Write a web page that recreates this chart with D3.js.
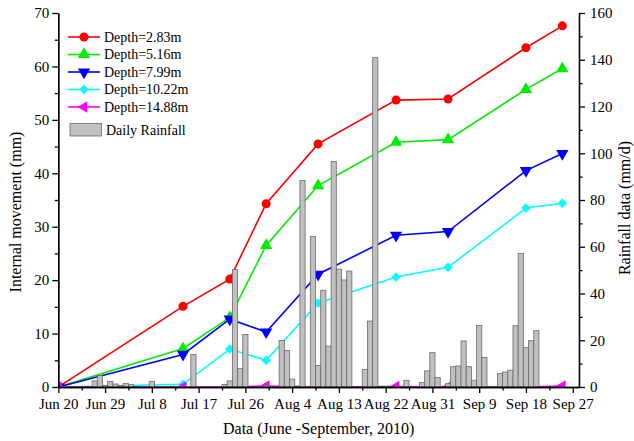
<!DOCTYPE html>
<meta charset="utf-8">
<html>
<head>
<style>
  body { margin: 0; background: #fff; }
  text { font-family: "Liberation Serif", "Times New Roman", serif; fill: #000; }
  .axis path, .axis line { stroke: #000; stroke-width: 1.3px; }
  .axis text { font-size: 15px; font-family: "Liberation Serif", serif; }
  rect.rain { fill: #c0c0c0; stroke: #6a6a6a; stroke-width: 0.8px; }
  text.legend { font-size: 14px; }
  text.title { font-size: 16px; }
</style>
<script src="https://cdn.jsdelivr.net/npm/d3@7"></script>
</head>
<body>
<div id="chart"></div>
<script>
// measuring dates and internal movement (mm)
var depthDates = ["Jun 20", "Jul 14", "Jul 23", "Jul 30", "Aug 9", "Aug 24", "Sep 3", "Sep 18", "Sep 25"];
var depth283  = [0, 15.1, 20.2, 34.3, 45.5, 53.7, 53.9, 63.5, 67.6];
var depth516  = [0, 7.2, 13.0, 26.5, 37.7, 45.8, 46.3, 55.7, 59.6];
var depth799  = [0, 6.1, 12.7, 10.3, 21.1, 28.4, 29.1, 40.5, 43.7];
var depth1022 = [0, 0.5, 7.1, 5.0, 15.7, 20.6, 22.4, 33.5, 34.4];
var depth1488 = [0, 0, 0, 0.2, 0, 0.1, 0, 0, 0.2];

// daily rainfall (mm/d), days not listed had none
var rainDates = ["Jun 27","Jun 28","Jun 29","Jun 30","Jul 1","Jul 2","Jul 3","Jul 4","Jul 5",
  "Jul 8","Jul 12","Jul 16",
  "Jul 22","Jul 23","Jul 24","Jul 25","Jul 26","Jul 30",
  "Aug 2","Aug 3","Aug 4","Aug 5","Aug 6",
  "Aug 8","Aug 9","Aug 10","Aug 11","Aug 12","Aug 13","Aug 14","Aug 15",
  "Aug 18","Aug 19","Aug 20","Aug 21","Aug 22","Aug 23","Aug 26",
  "Aug 29","Aug 30","Aug 31","Sep 1",
  "Sep 3","Sep 4","Sep 5","Sep 6","Sep 7","Sep 8","Sep 9","Sep 10",
  "Sep 13","Sep 14","Sep 15","Sep 16","Sep 17","Sep 18","Sep 19","Sep 20"];
var rainValues = [2.6, 4.9, 0.7, 2.4, 1.3, 0.6, 1.5, 1.0, 0.2,
  2.3, 0.3, 13.9,
  1.1, 2.6, 50.2, 7.9, 22.5, 0.6,
  19.9, 15.6, 3.4, 0.4, 88.4,
  64.4, 9.2, 41.4, 17.5, 96.5, 50.4, 45.8, 49.6,
  7.5, 28.2, 140.9, 0.3, 0.3, 0.2, 2.9,
  1.9, 6.9, 14.7, 4.0,
  1.4, 8.7, 9.0, 19.7, 8.7, 2.9, 26.3, 12.6,
  5.7, 6.4, 7.2, 26.2, 57.1, 16.8, 19.8, 24.1];

var xTickLabels = ["Jun 20","Jun 29","Jul 8","Jul 17","Jul 26","Aug 4","Aug 13","Aug 22","Aug 31","Sep 9","Sep 18","Sep 27"];
var leftTicks = [0, 10, 20, 30, 40, 50, 60, 70];
var rightTicks = [0, 20, 40, 60, 80, 100, 120, 140, 160];

var seriesNames = ["Depth=2.83m", "Depth=5.16m", "Depth=7.99m", "Depth=10.22m", "Depth=14.88m"];
var seriesValues = [depth283, depth516, depth799, depth1022, depth1488];
var seriesColors = ["#ff0000", "#00ee00", "#0000ff", "#00ffff", "#ff00ff"];

var width = 634, height = 441;
var plotLeft = 58.3, plotRight = 579, plotTop = 13, plotBottom = 387;

var parseDay = function(s) { return d3.timeParse("%b %d %Y")(s + " 2010"); };

var x = d3.scaleTime()
    .domain([parseDay("Jun 20"), d3.timeHour.offset(parseDay("Sep 28"), 5)])
    .range([plotLeft, plotRight]);
var yL = d3.scaleLinear().domain([0, 70]).range([plotBottom, plotTop]);
var yR = d3.scaleLinear().domain([0, 160]).range([plotBottom, plotTop]);

var svg = d3.select("#chart").append("svg")
    .attr("width", width)
    .attr("height", height);

svg.append("clipPath").attr("id", "plot")
  .append("rect")
    .attr("x", plotLeft).attr("y", plotTop)
    .attr("width", plotRight - plotLeft).attr("height", plotBottom - plotTop);

var plot = svg.append("g").attr("clip-path", "url(#plot)");

// marker shapes (Origin style)
var symbols = [
  { type: d3.symbolCircle, size: 64, rot: 0 },
  { type: d3.symbolTriangle, size: 66, rot: 0 },
  { type: d3.symbolTriangle, size: 66, rot: 180 },
  { type: d3.symbolSquare, size: 46, rot: 45 },
  { type: d3.symbolTriangle, size: 56, rot: -90 }
];

var line = d3.line()
    .x(function(d) { return x(parseDay(d.date)); })
    .y(function(d) { return yL(d.v); });

seriesValues.forEach(function(vals, k) {
  var pts = vals.map(function(v, i) { return { date: depthDates[i], v: v }; });
  plot.append("path")
    .datum(pts)
    .attr("d", line)
    .attr("fill", "none")
    .attr("stroke", seriesColors[k])
    .attr("stroke-width", 1.6);
  plot.selectAll(".m" + k)
    .data(pts)
    .enter().append("path")
    .attr("d", d3.symbol().type(symbols[k].type).size(symbols[k].size))
    .attr("transform", function(d) {
      return "translate(" + x(parseDay(d.date)) + "," + yL(d.v) + ") rotate(" + symbols[k].rot + ")";
    })
    .attr("fill", seriesColors[k]);
});

// rainfall bars, drawn over the lines
plot.selectAll(".rain")
  .data(rainDates)
  .enter().append("rect")
  .attr("class", "rain")
  .attr("x", function(d) { return x(d3.timeHour.offset(parseDay(d), -12)); })
  .attr("width", function(d) { return x(d3.timeHour.offset(parseDay(d), 12)) - x(d3.timeHour.offset(parseDay(d), -12)); })
  .attr("y", function(d, i) { return yR(rainValues[i]); })
  .attr("height", function(d, i) { return yR(0) - yR(rainValues[i]); });

// axes
var majorDates = xTickLabels.map(parseDay);
var minorDates = majorDates.map(function(d) { return d3.timeHour.offset(d, 108); })
    .filter(function(d) { return x(d) <= plotRight; });

svg.append("g").attr("class", "axis")
  .attr("transform", "translate(0," + plotBottom + ")")
  .call(d3.axisBottom(x).tickValues(minorDates).tickFormat("").tickSize(3.5).tickSizeOuter(0));
svg.append("g").attr("class", "axis")
  .attr("transform", "translate(0," + plotBottom + ")")
  .call(d3.axisBottom(x).tickValues(majorDates)
        .tickFormat(d3.timeFormat("%b %-d")).tickSize(6).tickSizeOuter(0).tickPadding(5));

svg.append("g").attr("class", "axis")
  .attr("transform", "translate(" + plotLeft + ",0)")
  .call(d3.axisLeft(yL).tickValues(d3.range(5, 70, 10)).tickFormat("").tickSize(3.5).tickSizeOuter(0));
svg.append("g").attr("class", "axis")
  .attr("transform", "translate(" + plotLeft + ",0)")
  .call(d3.axisLeft(yL).tickValues(leftTicks).tickSize(6).tickSizeOuter(0).tickPadding(3));

svg.append("g").attr("class", "axis")
  .attr("transform", "translate(" + plotRight + ",0)")
  .call(d3.axisRight(yR).tickValues(d3.range(10, 160, 20)).tickFormat("").tickSize(3.5).tickSizeOuter(0));
svg.append("g").attr("class", "axis")
  .attr("transform", "translate(" + plotRight + ",0)")
  .call(d3.axisRight(yR).tickValues(rightTicks).tickSize(6).tickSizeOuter(0).tickPadding(5));

// axis titles
svg.append("text").attr("class", "title")
  .attr("x", (plotLeft + plotRight) / 2).attr("y", 434)
  .attr("text-anchor", "middle")
  .text("Data (June -September, 2010)");
svg.append("text").attr("class", "title")
  .attr("transform", "translate(21,212) rotate(-90)")
  .attr("text-anchor", "middle")
  .text("Internal movement (mm)");
svg.append("text").attr("class", "title")
  .attr("transform", "translate(630,208) rotate(-90)")
  .attr("text-anchor", "middle")
  .text("Rainfall data (mm/d)");

// legend
var legend = svg.append("g");
seriesNames.forEach(function(name, k) {
  var cy = 37 + k * 17.5;
  legend.append("line")
    .attr("x1", 68).attr("x2", 100).attr("y1", cy).attr("y2", cy)
    .attr("stroke", seriesColors[k]).attr("stroke-width", 1.6);
  legend.append("path")
    .attr("d", d3.symbol().type(symbols[k].type).size(symbols[k].size))
    .attr("transform", "translate(84," + cy + ") rotate(" + symbols[k].rot + ")")
    .attr("fill", seriesColors[k]);
  legend.append("text").attr("class", "legend")
    .attr("x", 104).attr("y", cy + 4.8)
    .text(name);
});
legend.append("rect").attr("class", "rain")
  .attr("x", 70).attr("y", 123.5).attr("width", 31.5).attr("height", 12.5);
legend.append("text").attr("class", "legend")
  .attr("x", 106).attr("y", 134.5)
  .text("Daily Rainfall");
</script>
</body>
</html>
